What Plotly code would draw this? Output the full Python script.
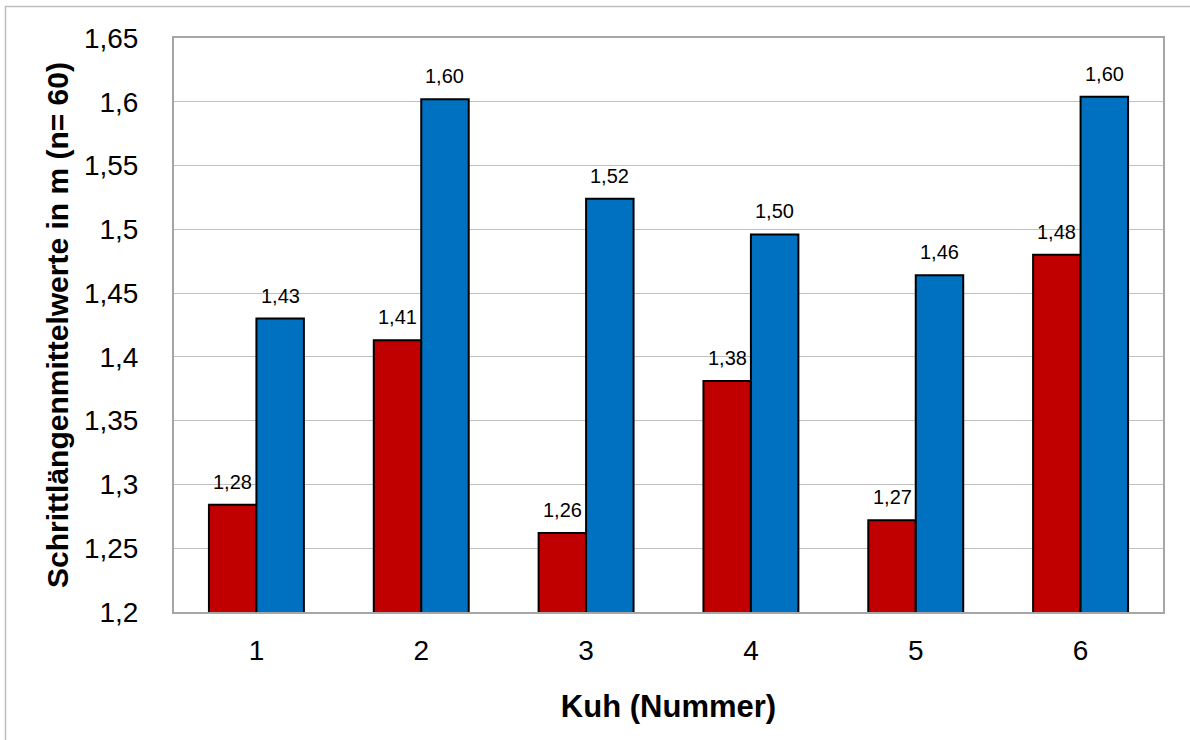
import plotly.graph_objects as go

cows = ["1", "2", "3", "4", "5", "6"]
series_red = [1.284, 1.413, 1.262, 1.381, 1.272, 1.480]
series_blue = [1.430, 1.602, 1.524, 1.496, 1.464, 1.604]
y_ticks = [1.2, 1.25, 1.3, 1.35, 1.4, 1.45, 1.5, 1.55, 1.6, 1.65]

RED = "#C00000"
BLUE = "#0070C0"
FONT = "Liberation Sans, Arial, sans-serif"

W, H = 1190, 740
L, R, T, B = 174, 27, 38, 128
plot_w = W - L - R
bargap = 0.424
bar_px = plot_w / len(cows) * (1 - bargap) / 2

fig = go.Figure()
fig.add_trace(go.Bar(x=cows, y=series_red, marker=dict(color=RED, line=dict(color="black", width=2)),
                     showlegend=False, hoverinfo="y"))
fig.add_trace(go.Bar(x=cows, y=series_blue, marker=dict(color=BLUE, line=dict(color="black", width=2)),
                     showlegend=False, hoverinfo="y"))

def fmt(v):
    return f"{v:.2f}".replace(".", ",")

annotations = []
for vals, shift in ((series_red, -bar_px / 2), (series_blue, bar_px / 2)):
    for i, v in enumerate(vals):
        annotations.append(dict(x=i, y=v, text=fmt(v), showarrow=False, xref="x", yref="y",
                                xanchor="center", yanchor="bottom", xshift=shift, yshift=10,
                                font=dict(family=FONT, size=20, color="black")))

fig.update_layout(
    width=W, height=H,
    margin=dict(l=L, r=R, t=T, b=B, pad=0),
    paper_bgcolor="white", plot_bgcolor="white",
    barmode="group", bargap=bargap, bargroupgap=0,
    separators=",.",
    font=dict(family=FONT, color="black"),
    annotations=annotations,
    shapes=[dict(type="rect", xref="paper", yref="paper",
                 x0=(5.5 - L) / plot_w, x1=2.0,
                 y0=-1.0, y1=(H - B - 6.5) / (H - T - B),
                 line=dict(color="#BFBFBF", width=1.5), fillcolor="rgba(0,0,0,0)", layer="below")],
)
fig.update_xaxes(
    type="category", showline=True, linecolor="#A6A6A6", linewidth=2, mirror=True,
    ticks="", tickfont=dict(size=28, family=FONT, color="black"), ticklabelstandoff=12,
    title=dict(text="<b>Kuh (Nummer)</b>", font=dict(size=31, family=FONT, color="black"), standoff=31),
)
fig.update_yaxes(
    range=[1.2, 1.65], tickvals=y_ticks, showgrid=True, gridcolor="#C0C0C0", gridwidth=1,
    showline=True, linecolor="#A6A6A6", linewidth=2, mirror=True, zeroline=False,
    ticks="", tickfont=dict(size=28, family=FONT, color="black"), ticklabelstandoff=28,
    title=dict(text="<b>Schrittlängenmittelwerte in m (n= 60)</b>",
               font=dict(size=30, family=FONT, color="black"), standoff=6),
)

fig.write_html("out.html")
